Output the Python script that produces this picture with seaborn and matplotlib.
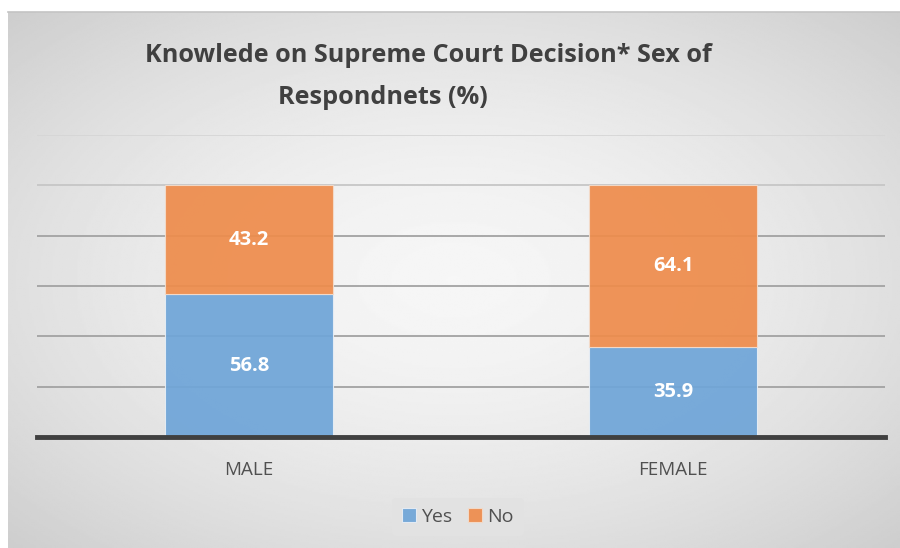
import numpy as np
import pandas as pd
import matplotlib
matplotlib.use("Agg")
import matplotlib.pyplot as plt
import seaborn as sns

# data
sexes = ["MALE", "FEMALE"]
yes_pct = [56.8, 35.9]
no_pct = [43.2, 64.1]
grid_levels = [20, 40, 60, 80, 100, 120]

blue = "#6fa5d8"
orange = "#ee8c4c"
text_gray = "#505050"

sns.set_style("white")
plt.rcParams["font.family"] = ["Open Sans", "DejaVu Sans"]

df = pd.DataFrame({"sex": sexes, "Yes": yes_pct, "No": no_pct})

fig = plt.figure(figsize=(9, 5.48), dpi=100)
fig.patch.set_facecolor("white")

# gradient background panel (radial, light centre, gray edges)
bg = fig.add_axes([8 / 900, 0, 1 - 8 / 900, 1 - 12 / 548], zorder=-10)
yy, xx = np.mgrid[-1:1:300j, -1:1:500j]
r = np.sqrt(xx ** 2 + yy ** 2) / np.sqrt(2)
shade = 0.965 - 0.16 * r ** 1.6
bg.imshow(shade, cmap="gray", vmin=0, vmax=1, aspect="auto", extent=[0, 1, 0, 1])
bg.set_xticks([])
bg.set_yticks([])
for s in ["left", "right", "bottom"]:
    bg.spines[s].set_visible(False)
bg.spines["top"].set_color("#c4c4c4")
bg.spines["top"].set_linewidth(1.2)

ax = fig.add_axes([37 / 900, (548 - 437) / 548, (885 - 37) / 900, (437 - 135) / 548])
ax.patch.set_alpha(0)

for lvl in grid_levels:
    col = "#d6d6d6" if lvl == 120 else ("#c6c6c6" if lvl == 100 else "#a2a2a2")
    ax.axhline(lvl, color=col, lw=1.3, zorder=0)

sns.barplot(data=df, x="sex", y="Yes", color=blue, width=0.395, saturation=1,
            edgecolor="#e8eef5", linewidth=0.8, alpha=0.93, ax=ax, label="Yes", zorder=2)
sns.barplot(data=df, x="sex", y="No", bottom=df["Yes"].values, color=orange, width=0.395,
            saturation=1, edgecolor="#f3dccb", linewidth=0.8, alpha=0.93, ax=ax, label="No", zorder=2)

for i, (y, n) in enumerate(zip(yes_pct, no_pct)):
    ax.text(i, y / 2, f"{y}", ha="center", va="center", color="white",
            fontsize=14.5, fontweight="bold")
    ax.text(i, y + n / 2, f"{n}", ha="center", va="center", color="white",
            fontsize=14.5, fontweight="bold")

ax.set_xlim(-0.5, 1.5)
ax.set_ylim(0, 120)
ax.set_yticks([])
ax.set_xlabel("")
ax.set_ylabel("")
ax.tick_params(axis="x", length=0, pad=17, labelsize=13.5, labelcolor=text_gray)
for s in ["left", "right", "top"]:
    ax.spines[s].set_visible(False)
ax.spines["bottom"].set_color("#404040")
ax.spines["bottom"].set_linewidth(3.5)
ax.spines["bottom"].set_zorder(5)

leg = ax.legend(loc="center", bbox_to_anchor=(458 / 900, 1 - 517 / 548),
                bbox_transform=fig.transFigure, ncol=2, frameon=True,
                fontsize=14, handlelength=0.7, handleheight=0.7,
                handletextpad=0.3, columnspacing=0.8, borderpad=0.5)
leg.get_frame().set_facecolor("#e2e2e2")
leg.get_frame().set_edgecolor("none")
leg.get_frame().set_alpha(1)
for t in leg.get_texts():
    t.set_color(text_gray)

fig.text(428 / 900, 1 - 56 / 548, "Knowlede on Supreme Court Decision* Sex of",
         ha="center", va="center", fontsize=18.2, fontweight="bold", color="#404040")
fig.text(383 / 900, 1 - 97 / 548, "Respondnets (%)",
         ha="center", va="center", fontsize=18.2, fontweight="bold", color="#404040")

fig.savefig("out.png", dpi=100)
